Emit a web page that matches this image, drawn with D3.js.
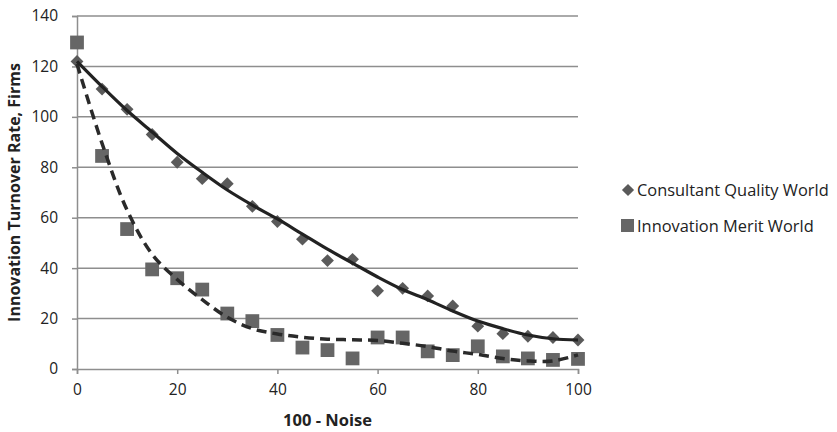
<!DOCTYPE html>
<html>
<head>
<meta charset="utf-8">
<script src="https://cdn.jsdelivr.net/npm/d3@7"></script>
<style>
  html, body { margin: 0; padding: 0; background: #fff; }
  svg { display: block; font-family: "Open Sans", Lato, sans-serif; }
</style>
</head>
<body>
<svg id="chart" width="837" height="432"></svg>
<script>
// x positions (100 - Noise)
const noise = [0, 5, 10, 15, 20, 25, 30, 35, 40, 45, 50, 55, 60, 65, 70, 75, 80, 85, 90, 95, 100];

// Consultant Quality World – observed turnover
const consultant = [122, 111, 103, 93, 82, 75.5, 73.5, 64.5, 58.5, 51.5, 43, 43.5, 31, 32, 29, 25, 17, 14, 13, 12.5, 11.5];
// Innovation Merit World – observed turnover
const merit = [129.5, 84.5, 55.5, 39.5, 36, 31.5, 22, 19, 13.5, 8.5, 7.5, 4.2, 12.5, 12.5, 7, 5.5, 9, 5, 4.2, 3.6, 4];

// Trend lines
const consultantTrend = [122, 112, 102.5, 94, 85.5, 78, 71, 65, 59.5, 53.5, 47.5, 42, 36.5, 31.5, 27.5, 23, 19, 16, 13.5, 12, 11.5];
const meritTrend = [121, 89.5, 63, 45.5, 35.5, 27.5, 20.5, 16, 13.9, 12.6, 11.8, 11.6, 11.3, 10.2, 8.9, 7.1, 5.8, 4.2, 3.2, 3.2, 5.6];

const xTicks = [0, 20, 40, 60, 80, 100];
const yTicks = [0, 20, 40, 60, 80, 100, 120, 140];

const seriesNames = ["Consultant Quality World", "Innovation Merit World"];

const svg = d3.select("#chart");
const plotLeft = 77, plotRight = 578, plotTop = 16, plotBottom = 369;
const gridColor = "#8e8e8e";
const textColor = "#222";

const x = d3.scaleLinear().domain([0, 100]).range([plotLeft, plotRight]);
const y = d3.scaleLinear().domain([0, 140]).range([plotBottom, plotTop]);

// horizontal gridlines
svg.append("g")
  .selectAll("line")
  .data(yTicks.filter(d => d > 0))
  .join("line")
  .attr("x1", plotLeft).attr("x2", plotRight)
  .attr("y1", d => y(d)).attr("y2", d => y(d))
  .attr("stroke", gridColor).attr("stroke-width", 1.5);

// y axis
const yAxis = svg.append("g")
  .attr("transform", `translate(${plotLeft},0)`)
  .call(d3.axisLeft(y).tickValues(yTicks).tickSize(5).tickPadding(14));
yAxis.select(".domain").attr("stroke", gridColor).attr("stroke-width", 1.5);
yAxis.selectAll(".tick line").attr("stroke", gridColor).attr("stroke-width", 1.5);
yAxis.selectAll("text").attr("font-size", 15.5).attr("fill", textColor).attr("font-family", "'Open Sans', sans-serif");

// x axis
const xAxis = svg.append("g")
  .attr("transform", `translate(0,${plotBottom})`)
  .call(d3.axisBottom(x).tickValues(xTicks).tickSize(5).tickPadding(10));
xAxis.select(".domain").attr("stroke", gridColor).attr("stroke-width", 1.5);
xAxis.selectAll(".tick line").attr("stroke", gridColor).attr("stroke-width", 1.5);
xAxis.selectAll("text").attr("font-size", 15.5).attr("fill", textColor).attr("font-family", "'Open Sans', sans-serif");

// axis titles
svg.append("text")
  .attr("x", (plotLeft + plotRight) / 2).attr("y", 426)
  .attr("text-anchor", "middle")
  .attr("font-size", 16.5).attr("font-weight", "bold").attr("fill", textColor)
  .text("100 - Noise");

svg.append("text")
  .attr("transform", `translate(20,${(plotTop + plotBottom) / 2}) rotate(-90)`)
  .attr("text-anchor", "middle")
  .attr("font-size", 16).attr("font-weight", "bold").attr("fill", textColor)
  .text("Innovation Turnover Rate, Firms");

// markers
const diamond = d3.symbol().type(d3.symbolDiamond2).size(105);
const square = d3.symbol().type(d3.symbolSquare).size(190);

svg.append("g")
  .selectAll("path")
  .data(noise.map((n, i) => [n, merit[i]]))
  .join("path")
  .attr("d", square)
  .attr("transform", d => `translate(${x(d[0])},${y(d[1])})`)
  .attr("fill", "#666");

svg.append("g")
  .selectAll("path")
  .data(noise.map((n, i) => [n, consultant[i]]))
  .join("path")
  .attr("d", diamond)
  .attr("transform", d => `translate(${x(d[0])},${y(d[1])})`)
  .attr("fill", "#5a5a5a");

// trend lines
const line = d3.line()
  .x(d => x(d[0]))
  .y(d => y(d[1]))
  .curve(d3.curveCatmullRom.alpha(0.5));

svg.append("path")
  .datum(noise.map((n, i) => [n, meritTrend[i]]))
  .attr("d", line)
  .attr("fill", "none")
  .attr("stroke", "#2a2a2a")
  .attr("stroke-width", 3.5)
  .attr("stroke-dasharray", "10,6");

svg.append("path")
  .datum(noise.map((n, i) => [n, consultantTrend[i]]))
  .attr("d", line)
  .attr("fill", "none")
  .attr("stroke", "#222")
  .attr("stroke-width", 3.2);

// legend
const legend = svg.append("g").attr("transform", "translate(621,190)");
legend.append("path")
  .attr("d", diamond)
  .attr("transform", "translate(7,0) scale(0.95)")
  .attr("fill", "#5a5a5a");
legend.append("rect")
  .attr("x", 0).attr("y", 29).attr("width", 13).attr("height", 13)
  .attr("fill", "#666");
legend.selectAll("text")
  .data(seriesNames)
  .join("text")
  .attr("x", 16)
  .attr("y", (d, i) => i * 36 + 6)
  .attr("font-size", 16.4)
  .attr("fill", textColor)
  .text(d => d);
</script>
</body>
</html>
